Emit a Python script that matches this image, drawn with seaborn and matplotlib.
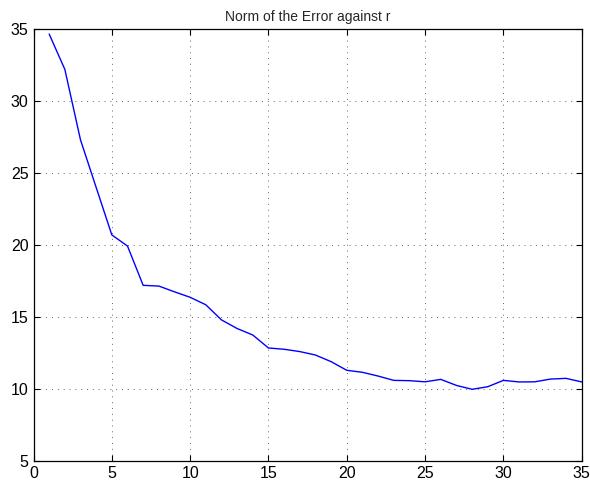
import numpy as np
import pandas as pd
import matplotlib
matplotlib.use("Agg")
import matplotlib.pyplot as plt
import seaborn as sns

# values
r_values = list(range(1, 36))
error_norm = [34.65, 32.2, 27.3, 24.0, 20.7, 19.93, 17.2, 17.15, 16.75, 16.37,
              15.85, 14.8, 14.2, 13.75, 12.85, 12.76, 12.6, 12.36, 11.9, 11.3,
              11.16, 10.9, 10.6, 10.58, 10.5, 10.67, 10.25, 9.98, 10.16, 10.6,
              10.49, 10.5, 10.69, 10.74, 10.49]
x_ticks = [0, 5, 10, 15, 20, 25, 30, 35]
y_ticks = [5, 10, 15, 20, 25, 30, 35]

df = pd.DataFrame({'r': r_values, 'err': error_norm})

sns.set_style("ticks")
plt.rcParams['font.family'] = ['Liberation Sans', 'DejaVu Sans']

fig = plt.figure(figsize=(5.9, 4.84), dpi=100)
ax = fig.add_axes([0.0568, 0.0475, 0.9292, 0.8925])

sns.lineplot(data=df, x='r', y='err', color='#0000ff', linewidth=1.0, ax=ax)

ax.set_xlim(0, 35)
ax.set_ylim(5, 35)
ax.set_xticks(x_ticks)
ax.set_yticks(y_ticks)
ax.set_xlabel('')
ax.set_ylabel('')
ax.set_title('Norm of the Error against r', fontsize=10, pad=6)

ax.grid(True, linestyle=(0, (1, 5)), color='#666666', linewidth=0.7)
ax.tick_params(direction='in', top=True, right=True, length=4, width=0.8,
               labelsize=11.5, colors='black')
for s in ax.spines.values():
    s.set_visible(True)
    s.set_color('black')
    s.set_linewidth(0.9)

fig.savefig('out.png', dpi=100)
